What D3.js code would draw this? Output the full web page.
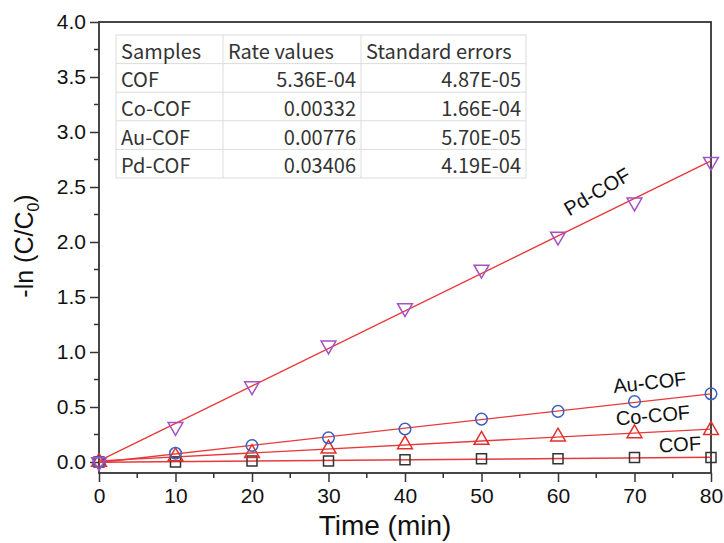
<!doctype html>
<html>
  <head>
    <meta charset="utf-8">
    <title>Kinetics</title>
    <script src="https://d3js.org/d3.v7.min.js"></script>
    <style>
      body { margin: 0; background: #fff; }
    </style>
  </head>
  <body>
    <script>
      // data
      const times = [0, 10, 20, 30, 40, 50, 60, 70, 80];
      const cofValues = [0.00, 0.00, 0.01, 0.01, 0.02, 0.03, 0.03, 0.04, 0.04];
      const coCofValues = [0.00, 0.05, 0.08, 0.12, 0.16, 0.20, 0.23, 0.26, 0.29];
      const auCofValues = [0.00, 0.08, 0.15, 0.22, 0.30, 0.39, 0.46, 0.55, 0.62];
      const pdCofValues = [0.00, 0.32, 0.69, 1.06, 1.40, 1.75, 2.05, 2.36, 2.73];

      const xTicks = [0, 10, 20, 30, 40, 50, 60, 70, 80];
      const yTicks = [0.0, 0.5, 1.0, 1.5, 2.0, 2.5, 3.0, 3.5, 4.0];

      const tableHeader = ['Samples', 'Rate values', 'Standard errors'];
      const tableSamples = ['COF', 'Co-COF', 'Au-COF', 'Pd-COF'];
      const tableRates = ['5.36E-04', '0.00332', '0.00776', '0.03406'];
      const tableErrors = ['4.87E-05', '1.66E-04', '5.70E-05', '4.19E-04'];

      const series = [
        { name: 'COF', values: cofValues, symbol: 'square', color: '#333333', label: [680, 446, -3] },
        { name: 'Co-COF', values: coCofValues, symbol: 'up', color: '#e0302a', label: [653, 417, -5] },
        { name: 'Au-COF', values: auCofValues, symbol: 'circle', color: '#3a5fc0', label: [650, 384, -6] },
        { name: 'Pd-COF', values: pdCofValues, symbol: 'down', color: '#a452c4', label: [598, 193, -31] }
      ];

      const svgWidth = 724;
      const svgHeight = 543;
      const plot = { left: 99, right: 711, top: 22, bottom: 473 };

      const svg = d3.select('body').append('svg')
          .attr('width', svgWidth)
          .attr('height', svgHeight)
          .style('font-family', '"Liberation Sans", Arial, sans-serif');

      const xScale = d3.scaleLinear().domain([0, 80]).range([plot.left, plot.right]);
      const yScale = d3.scaleLinear().domain([-0.1, 4.0]).range([plot.bottom, plot.top]);

      const axisColor = '#333';

      // minor ticks
      const xMinor = d3.range(5, 80, 10);
      const yMinor = d3.range(0.25, 4.0, 0.5);

      // x axis
      const gx = svg.append('g').attr('transform', `translate(0, ${plot.bottom})`);
      gx.call(d3.axisBottom(xScale).tickValues(xTicks).tickSize(9).tickPadding(6).tickFormat(d3.format('d')));
      gx.selectAll('line').attr('stroke', axisColor).attr('stroke-width', 1.5);
      gx.select('.domain').remove();
      gx.selectAll('text').attr('font-size', 21).attr('fill', '#111').attr('font-family', '"Liberation Sans", Arial, sans-serif');
      gx.selectAll('.minor').data(xMinor).enter().append('line')
          .attr('x1', d => xScale(d)).attr('x2', d => xScale(d))
          .attr('y1', 0).attr('y2', 5)
          .attr('stroke', axisColor).attr('stroke-width', 1.5);

      // y axis
      const gy = svg.append('g').attr('transform', `translate(${plot.left}, 0)`);
      gy.call(d3.axisLeft(yScale).tickValues(yTicks).tickSize(9).tickPadding(4).tickFormat(d3.format('.1f')));
      gy.selectAll('line').attr('stroke', axisColor).attr('stroke-width', 1.5);
      gy.select('.domain').remove();
      gy.selectAll('text').attr('font-size', 21).attr('fill', '#111').attr('font-family', '"Liberation Sans", Arial, sans-serif');
      gy.selectAll('.minor').data(yMinor).enter().append('line')
          .attr('x1', 0).attr('x2', -5)
          .attr('y1', d => yScale(d)).attr('y2', d => yScale(d))
          .attr('stroke', axisColor).attr('stroke-width', 1.5);

      // frame
      svg.append('rect')
          .attr('x', plot.left).attr('y', plot.top)
          .attr('width', plot.right - plot.left).attr('height', plot.bottom - plot.top)
          .attr('fill', 'none').attr('stroke', axisColor).attr('stroke-width', 1.8);

      // axis titles
      svg.append('text')
          .attr('x', 385).attr('y', 535)
          .attr('text-anchor', 'middle').attr('font-size', 28).attr('fill', '#111')
          .text('Time (min)');

      const yTitle = svg.append('text')
          .attr('transform', `translate(33, 246) rotate(-90)`)
          .attr('text-anchor', 'middle').attr('font-size', 25).attr('fill', '#111');
      yTitle.append('tspan').text('-ln (C/C');
      yTitle.append('tspan').attr('font-size', 16).attr('dy', 6).text('0');
      yTitle.append('tspan').attr('dy', -6).text(')');

      // linear fits (least squares through the points)
      function fit(xs, ys) {
        const mx = d3.mean(xs), my = d3.mean(ys);
        const k = d3.sum(xs, (x, i) => (x - mx) * (ys[i] - my)) / d3.sum(xs, x => (x - mx) * (x - mx));
        return { k, b: my - k * mx };
      }

      const gFit = svg.append('g');
      series.forEach(s => {
        const f = fit(times, s.values);
        gFit.append('line')
            .attr('x1', xScale(0)).attr('y1', yScale(f.b))
            .attr('x2', xScale(80)).attr('y2', yScale(f.b + f.k * 80))
            .attr('stroke', '#e8393a').attr('stroke-width', 1.4);
      });

      // markers
      const symbolPath = {
        square: d3.symbol().type(d3.symbolSquare).size(100)(),
        circle: d3.symbol().type(d3.symbolCircle).size(105)(),
        up: d3.symbol().type(d3.symbolTriangle).size(95)(),
        down: d3.symbol().type(d3.symbolTriangle).size(95)()
      };
      series.forEach(s => {
        svg.append('g').selectAll('path')
          .data(times.map((t, i) => [t, s.values[i]]))
          .enter().append('path')
            .attr('d', symbolPath[s.symbol])
            .attr('transform', d => `translate(${xScale(d[0])}, ${yScale(d[1])})` + (s.symbol === 'down' ? ' rotate(180)' : ''))
            .attr('fill', 'none')
            .attr('stroke', s.color)
            .attr('stroke-width', 1.5);
      });

      // line labels
      series.forEach(s => {
        svg.append('text')
            .attr('transform', `translate(${s.label[0]}, ${s.label[1]}) rotate(${s.label[2]})`)
            .attr('text-anchor', 'middle')
            .attr('dominant-baseline', 'middle')
            .attr('font-size', 20).attr('fill', '#111')
            .text(s.name);
      });

      // table
      const table = { x: 116, y: 35, colW: [107, 138, 165], rowH: 28.6 };
      const rows = [tableHeader].concat(tableSamples.map((d, i) => [d, tableRates[i], tableErrors[i]]));
      const gTable = svg.append('g').attr('font-family', '"Noto Sans CJK SC", "Noto Sans", sans-serif');
      const colX = [table.x, table.x + table.colW[0], table.x + table.colW[0] + table.colW[1], table.x + d3.sum(table.colW)];
      gTable.append('rect')
          .attr('x', table.x).attr('y', table.y)
          .attr('width', d3.sum(table.colW)).attr('height', rows.length * table.rowH)
          .attr('fill', '#fff').attr('stroke', '#dcdcdc').attr('stroke-width', 1);
      d3.range(1, rows.length).forEach(r => {
        gTable.append('line')
            .attr('x1', table.x).attr('x2', colX[3])
            .attr('y1', table.y + r * table.rowH).attr('y2', table.y + r * table.rowH)
            .attr('stroke', '#dcdcdc');
      });
      [1, 2].forEach(c => {
        gTable.append('line')
            .attr('x1', colX[c]).attr('x2', colX[c])
            .attr('y1', table.y).attr('y2', table.y + rows.length * table.rowH)
            .attr('stroke', '#dcdcdc');
      });
      rows.forEach((row, r) => {
        row.forEach((cell, c) => {
          const right = r > 0 && c > 0;
          gTable.append('text')
              .attr('x', right ? colX[c + 1] - 5 : colX[c] + 5)
              .attr('y', table.y + (r + 0.5) * table.rowH + 1)
              .attr('dominant-baseline', 'central')
              .attr('text-anchor', right ? 'end' : 'start')
              .attr('font-size', 20).attr('fill', '#333')
              .text(cell);
        });
      });
    </script>
  </body>
</html>
